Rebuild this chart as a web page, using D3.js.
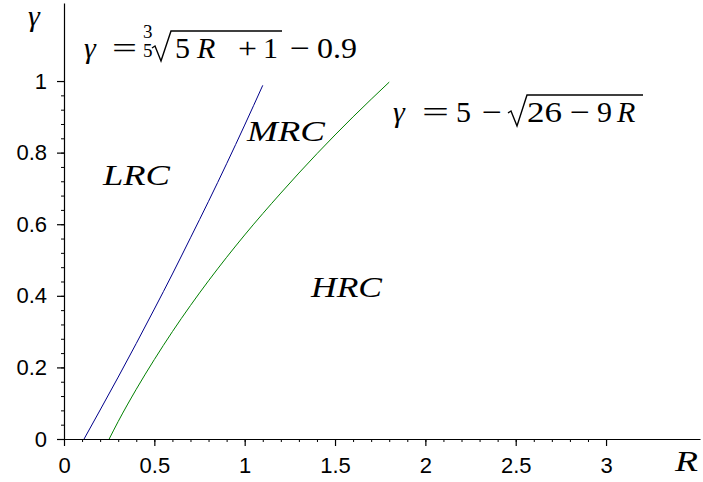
<!DOCTYPE html>
<html>
<head>
<meta charset="utf-8">
<script src="https://cdn.jsdelivr.net/npm/d3@7"></script>
</head>
<body style="margin:0">
<svg width="703" height="482"></svg>
<script>
// blue curve: gamma = 5 - sqrt(26 - 9R)
var blueR = [0.111, 0.2, 0.3, 0.4, 0.5, 0.6, 0.7, 0.8, 0.9, 1.0, 1.1];
var blueG = [0, 0.081, 0.173, 0.267, 0.363, 0.461, 0.562, 0.664, 0.769, 0.877, 0.988];
// green curve: gamma = 3/5 sqrt(5R + 1) - 0.9
var greenR = [0.25, 0.3, 0.4, 0.5, 0.6, 0.7, 0.8, 1.0, 1.2, 1.4, 1.6, 1.8];
var greenG = [0, 0.049, 0.139, 0.222, 0.3, 0.373, 0.442, 0.570, 0.687, 0.797, 0.9, 0.997];

var xMajor = [0, 0.5, 1, 1.5, 2, 2.5, 3];
var yMajor = [0, 0.2, 0.4, 0.6, 0.8, 1];
var xMinor = d3.range(1, 31).map(function(i) { return i / 10; });
var yMinor = d3.range(1, 26).map(function(i) { return i * 0.04; });

var svg = d3.select("svg");

var x = d3.scaleLinear().domain([0, 3.52]).range([64, 700]);
var y = d3.scaleLinear().domain([0, 1.218]).range([439, 3]);

// minor ticks
svg.append("g")
  .attr("transform", "translate(0," + y(0) + ")")
  .call(d3.axisBottom(x).tickValues(xMinor).tickSize(3).tickFormat(""))
  .call(function(g) { g.select(".domain").remove(); });
svg.append("g")
  .attr("transform", "translate(" + x(0) + ",0)")
  .call(d3.axisLeft(y).tickValues(yMinor).tickSize(3).tickFormat(""))
  .call(function(g) { g.select(".domain").remove(); });

// main axes
var xAxis = svg.append("g")
  .attr("transform", "translate(0," + y(0) + ")")
  .call(d3.axisBottom(x).tickValues(xMajor).tickSize(7).tickSizeOuter(0).tickPadding(11).tickFormat(d3.format("")));
var yAxis = svg.append("g")
  .attr("transform", "translate(" + x(0) + ",0)")
  .call(d3.axisLeft(y).tickValues(yMajor).tickSize(7).tickSizeOuter(0).tickPadding(10).tickFormat(d3.format("")));

[xAxis, yAxis].forEach(function(a) {
  a.attr("font-family", "Liberation Sans").attr("font-size", 22);
  a.selectAll(".domain, .tick line").attr("stroke", "#000").attr("stroke-width", 1.2);
  a.selectAll(".tick text").attr("fill", "#000");
});

// curves
var line = d3.line()
  .x(function(d) { return x(d[0]); })
  .y(function(d) { return y(d[1]); })
  .curve(d3.curveMonotoneX);

svg.append("path")
  .datum(d3.zip(blueR, blueG))
  .attr("d", line)
  .attr("fill", "none")
  .attr("stroke", "#00008b")
  .attr("stroke-width", 1);

svg.append("path")
  .datum(d3.zip(greenR, greenG))
  .attr("d", line)
  .attr("fill", "none")
  .attr("stroke", "#008000")
  .attr("stroke-width", 1);

// math text, Times-like serif
function put(txt, px, py, size, italic, width) {
  var t = svg.append("text")
    .attr("x", px).attr("y", py)
    .attr("font-family", "Times New Roman")
    .style("font-family", "'Times New Roman'")
    .style("font-size", size + "px")
    .style("font-style", italic ? "italic" : "normal")
    .attr("fill", "#000")
    .text(txt);
  if (width) t.attr("textLength", width).attr("lengthAdjust", "spacingAndGlyphs");
  return t;
}
function radical(x0, yb, yt, x1) {
  svg.append("path")
    .attr("d", "M" + x0 + "," + (yb - 14) + " l3,-2 l6,15 l10," + (yt - yb - 1) + " H" + x1)
    .attr("fill", "none").attr("stroke", "#000").attr("stroke-width", 1.4);
}

// axis labels
put("γ", 28, 26, 30, true);
put("R", 675, 471, 30, true, 23);

// region labels
put("LRC", 103, 185, 30, true, 67);
put("MRC", 247, 141, 30, true, 78);
put("HRC", 311, 297, 30, true, 71);

// formula 1: gamma = 3/5 sqrt(5R+1) - 0.9
var b1 = 58;
put("γ", 84, b1, 30, true);
put("=", 112, b1, 30, false, 25);
put("3", 143, 38, 19, false);
put("5", 143, 57, 19, false);
radical(152, 62, 33, 282);
put("5", 175, b1, 30, false);
put("R", 197, b1, 30, true);
put("+", 238, b1, 30, false, 19);
put("1", 263, b1, 30, false);
put("−", 290, b1, 30, false, 20);
put("0.9", 317, b1, 30, false, 40);

// formula 2: gamma = 5 - sqrt(26 - 9R)
var b2 = 122;
put("γ", 393, b2, 30, true);
put("=", 422, b2, 30, false, 27);
put("5", 456, b2, 30, false);
put("−", 482, b2, 30, false, 20);
radical(508, 127, 97, 643);
put("26", 527, b2, 30, false, 35);
put("−", 570, b2, 30, false, 20);
put("9", 597, b2, 30, false);
put("R", 617, b2, 30, true);
</script>
</body>
</html>
